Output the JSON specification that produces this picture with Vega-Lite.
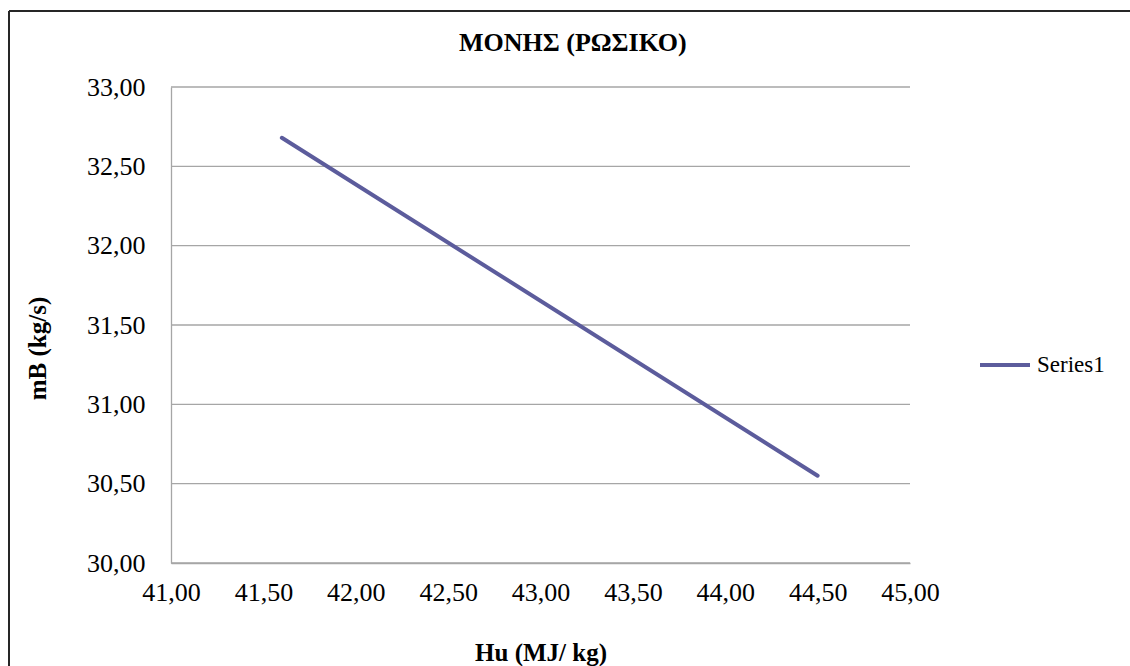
{
  "$schema": "https://vega.github.io/schema/vega-lite/v6.json",
  "width": 1121,
  "height": 655,
  "autosize": {"type": "none"},
  "padding": {"left": 9, "top": 11, "right": 0, "bottom": 0},
  "background": "white",
  "config": {
    "view": {"stroke": "#262626", "strokeWidth": 2, "strokeDash": [1121, 1776, 655, 0]},
    "font": "Times New Roman, Liberation Serif, serif"
  },
  "title": {
    "text": "ΜΟΝΗΣ (ΡΩΣΙΚΟ)",
    "anchor": "start",
    "dx": 450,
    "frame": "group",
    "font": "Times New Roman, Liberation Serif, serif",
    "fontSize": 26,
    "fontWeight": "bold",
    "color": "#000000",
    "baseline": "alphabetic",
    "offset": -66
  },
  "layer": [
    {
      "data": {"values": [{"mB": 30}, {"mB": 30.5}, {"mB": 31}, {"mB": 31.5}, {"mB": 32}, {"mB": 32.5}, {"mB": 33}]},
      "mark": {"type": "rule", "color": "#a6a6a6", "strokeWidth": 1.3},
      "encoding": {
        "y": {"field": "mB", "type": "quantitative", "title": "mB (kg/s)"},
        "x": {"datum": 41},
        "x2": {"datum": 45}
      }
    },
    {
      "data": {"values": [
        {"Hu": 41.6, "mB": 32.68, "series": "Series1"},
        {"Hu": 44.5, "mB": 30.55, "series": "Series1"}
      ]},
      "mark": {"type": "line", "strokeWidth": 4, "strokeCap": "round"},
      "encoding": {
        "x": {
          "field": "Hu",
          "type": "quantitative",
          "scale": {"domain": [41, 45], "range": [162, 901], "nice": false, "zero": false},
          "axis": {
            "title": "Hu (MJ/ kg)",
            "values": [41, 41.5, 42, 42.5, 43, 43.5, 44, 44.5, 45],
            "labelExpr": "replace(format(datum.value, '.2f'), '.', ',')",
            "grid": false,
            "ticks": false,
            "domain": true,
            "domainColor": "#a6a6a6",
            "domainWidth": 1.3,
            "offset": -103,
            "labelFont": "Times New Roman, Liberation Serif, serif",
            "labelFontSize": 26,
            "labelColor": "#000000",
            "labelPadding": 16,
            "labelFlush": false,
            "labelOverlap": false,
            "labelBound": false,
            "titleFont": "Times New Roman, Liberation Serif, serif",
            "titleFontSize": 25,
            "titleFontWeight": "bold",
            "titleColor": "#000000",
            "titleY": 97,
            "titleBaseline": "alphabetic"
          }
        },
        "y": {
          "field": "mB",
          "type": "quantitative",
          "scale": {"domain": [30, 33], "range": [552, 76], "nice": false, "zero": false},
          "axis": {
            "title": "mB (kg/s)",
            "values": [30, 30.5, 31, 31.5, 32, 32.5, 33],
            "labelExpr": "replace(format(datum.value, '.2f'), '.', ',')",
            "grid": false,
            "ticks": false,
            "domain": true,
            "domainColor": "#a6a6a6",
            "domainWidth": 1.3,
            "offset": -162,
            "labelFont": "Times New Roman, Liberation Serif, serif",
            "labelFontSize": 26,
            "labelColor": "#000000",
            "labelPadding": 26,
            "labelOverlap": false,
            "labelBound": false,
            "labelFlush": false,
            "titleFont": "Times New Roman, Liberation Serif, serif",
            "titleFontSize": 25,
            "titleFontWeight": "bold",
            "titleColor": "#000000",
            "titleX": -134,
            "titleY": 337,
            "titleAngle": -90,
            "titleAlign": "center",
            "titleBaseline": "middle"
          }
        },
        "color": {
          "field": "series",
          "type": "nominal",
          "scale": {"range": ["#5c5c9c"]},
          "legend": {
            "title": null,
            "orient": "none",
            "legendX": 969,
            "legendY": 327,
            "symbolType": "stroke",
            "symbolSize": 2500,
            "symbolStrokeWidth": 4,
            "labelFont": "Times New Roman, Liberation Serif, serif",
            "labelFontSize": 23,
            "labelColor": "#000000",
            "labelOffset": 5,
            "padding": 0
          }
        }
      }
    }
  ]
}
